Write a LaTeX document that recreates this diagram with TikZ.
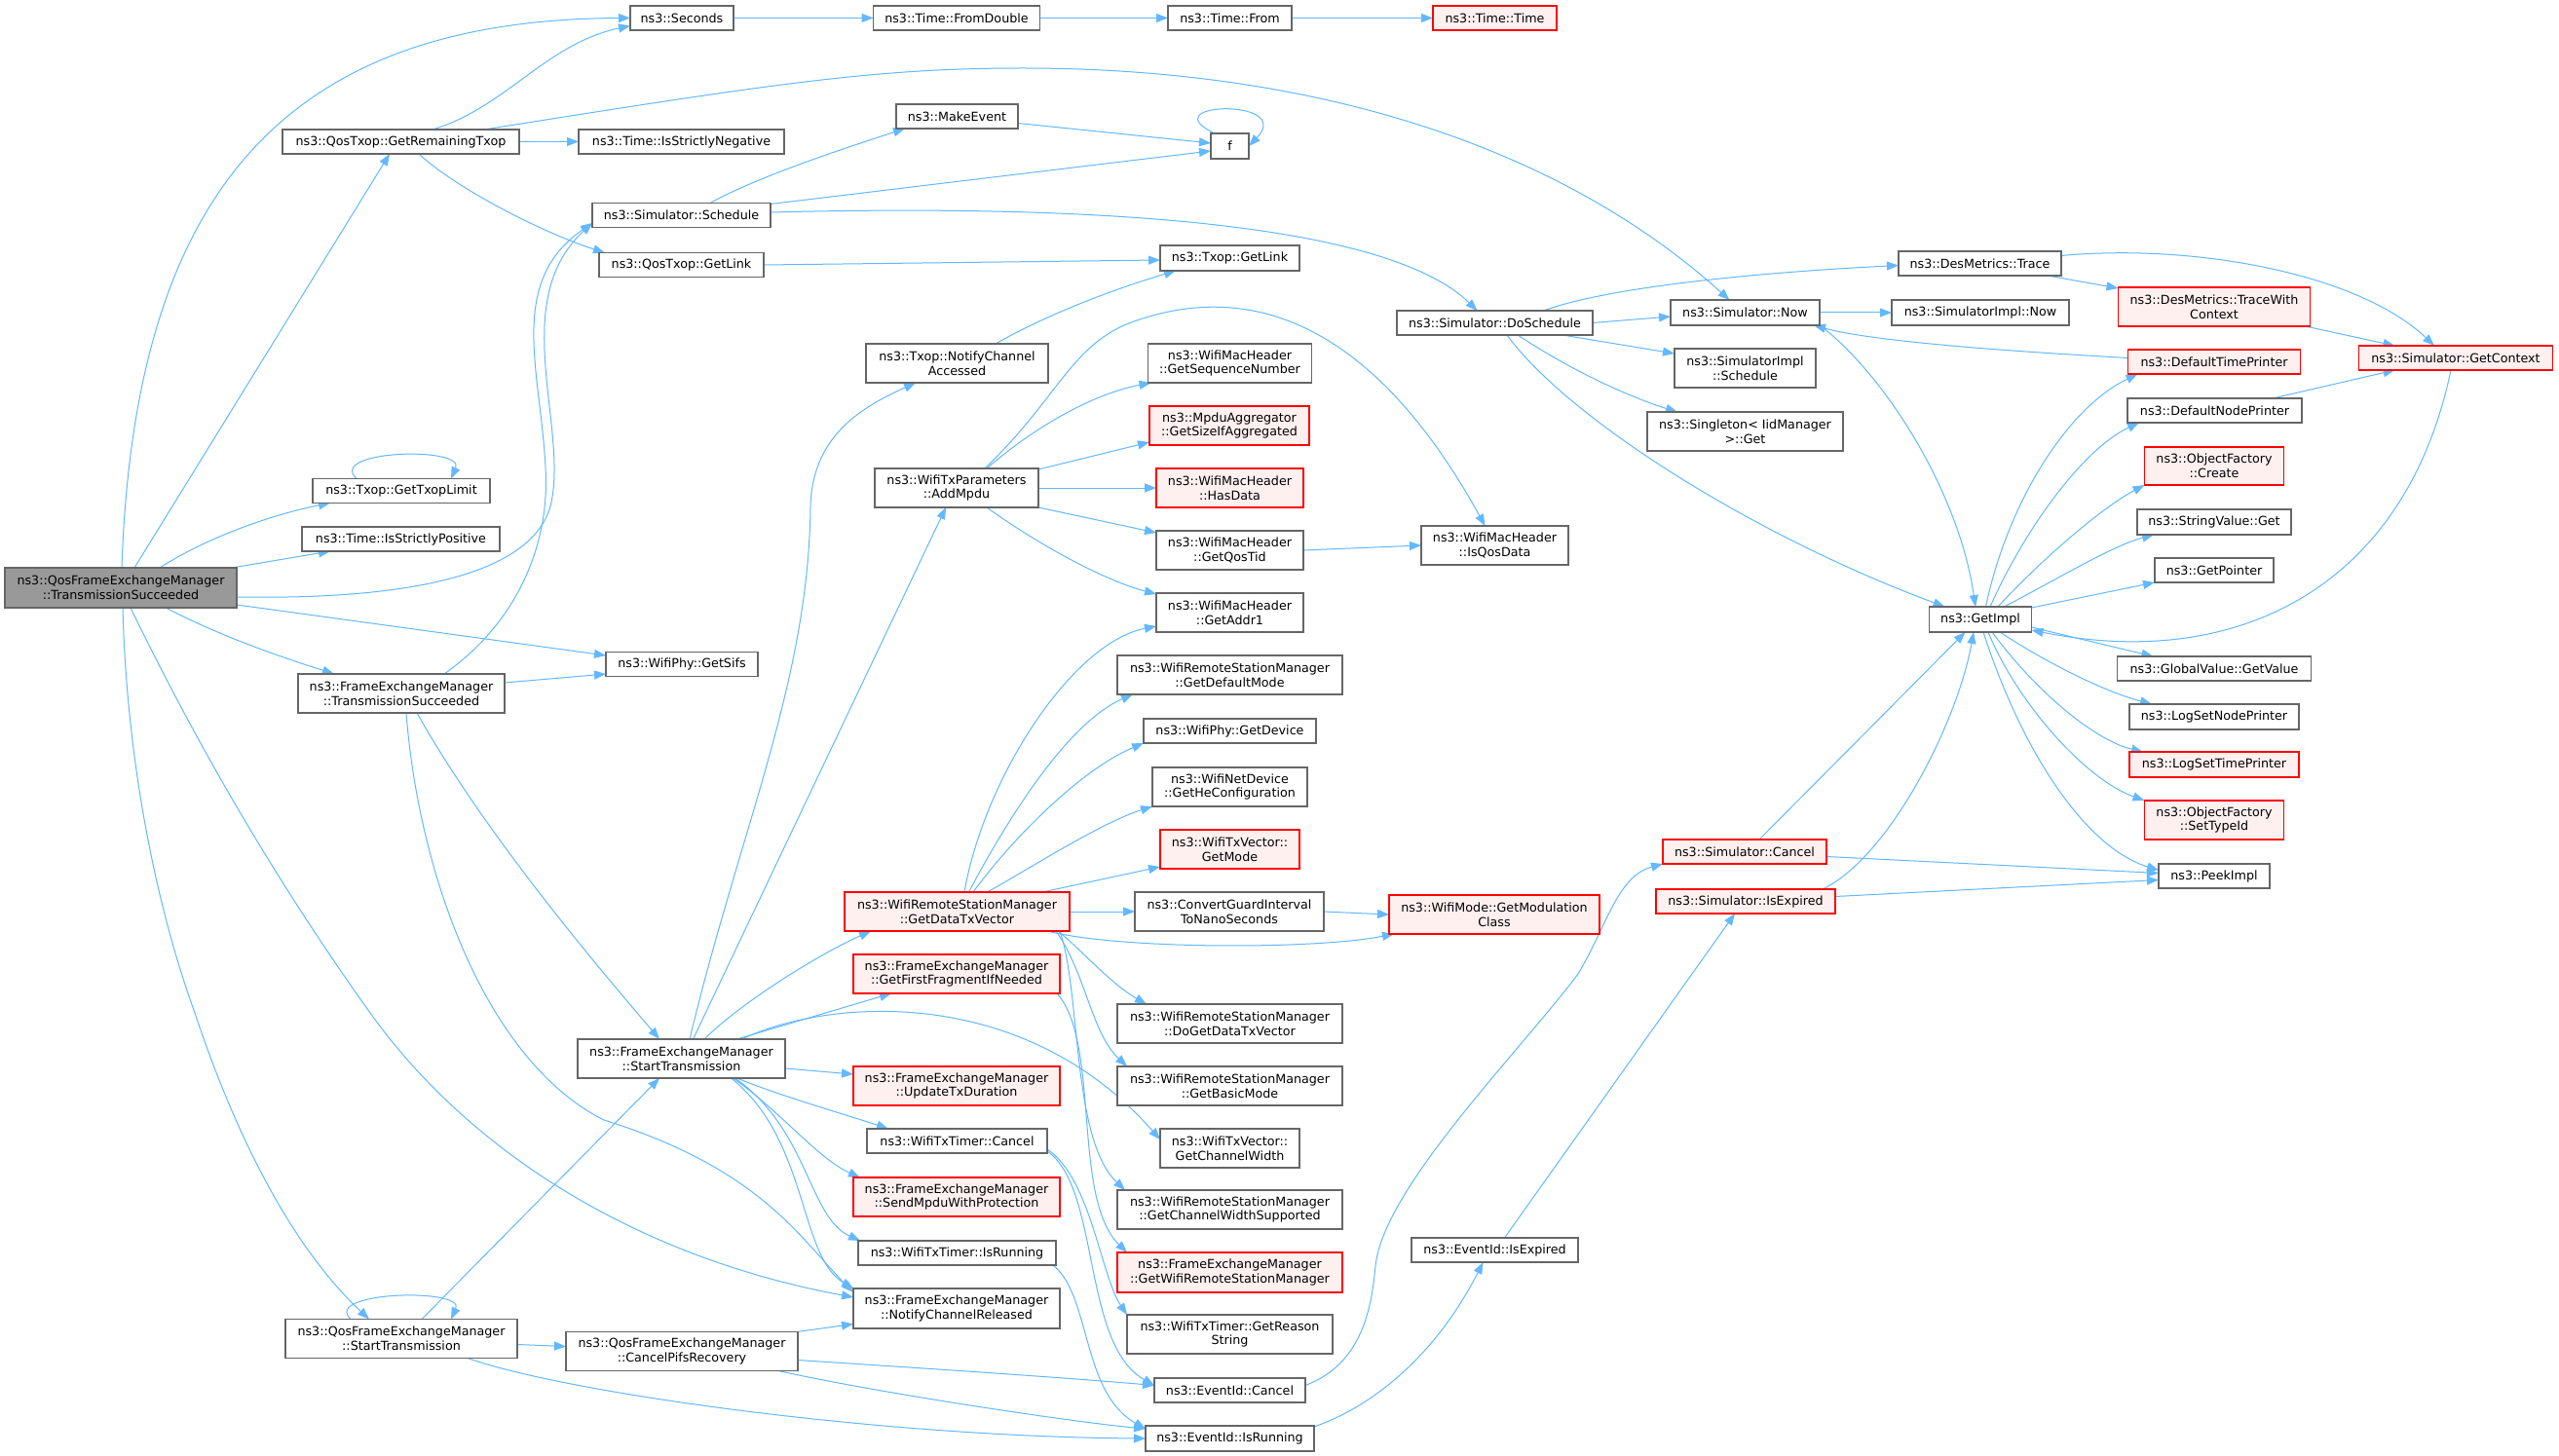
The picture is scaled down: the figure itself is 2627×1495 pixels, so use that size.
\documentclass[tikz,border=0pt]{standalone}
\usepackage{fontspec}
\setmainfont{DejaVu Sans}
\usetikzlibrary{arrows.meta,calc}
\definecolor{edgecol}{HTML}{63B8FF}
\definecolor{greyforty}{HTML}{666666}
\definecolor{greysixty}{HTML}{999999}
\definecolor{redfill}{HTML}{FFF0F0}
\pgfdeclarelayer{bg}
\pgfsetlayers{bg,main}
\begin{document}
\begin{tikzpicture}[x=1pt,y=-1pt,
  nbox/.style={draw=greyforty,fill=white,line width=1.3pt,inner sep=0pt,outer sep=0pt,align=center,text=black,font=\fontsize{12.7}{14.7}\selectfont},
  rbox/.style={nbox,draw=red,fill=redfill},
  mbox/.style={nbox,fill=greysixty},
  conn/.style={draw=edgecol,line width=1pt,-{Triangle[length=12pt,width=9pt]}}]
\useasboundingbox (0,0) rectangle (2627,1495);
% ---------------- nodes ----------------
\node[mbox,minimum width=238pt,minimum height=41pt] (main) at (124,603.5) {ns3::QosFrameExchangeManager\\::TransmissionSucceeded};
\node[nbox,minimum width=243pt,minimum height=25pt] (grt) at (411.5,145.5) {ns3::QosTxop::GetRemainingTxop};
\node[nbox,minimum width=182pt,minimum height=25pt] (gtl) at (412,504) {ns3::Txop::GetTxopLimit};
\node[nbox,minimum width=203pt,minimum height=25pt] (isp) at (411.5,553.5) {ns3::Time::IsStrictlyPositive};
\node[nbox,minimum width=212pt,minimum height=40pt] (fts) at (412,712) {ns3::FrameExchangeManager\\::TransmissionSucceeded};
\node[nbox,minimum width=238pt,minimum height=40pt] (qst) at (412,1374.5) {ns3::QosFrameExchangeManager\\::StartTransmission};
\node[nbox,minimum width=106pt,minimum height=25pt] (sec) at (700,18.5) {ns3::Seconds};
\node[nbox,minimum width=211pt,minimum height=25pt] (isn) at (699.5,145.5) {ns3::Time::IsStrictlyNegative};
\node[nbox,minimum width=183pt,minimum height=25pt] (sch) at (699.5,221) {ns3::Simulator::Schedule};
\node[nbox,minimum width=169pt,minimum height=25pt] (qgl) at (699.5,272) {ns3::QosTxop::GetLink};
\node[nbox,minimum width=156pt,minimum height=25pt] (sifs) at (700,682) {ns3::WifiPhy::GetSifs};
\node[nbox,minimum width=213pt,minimum height=40pt] (fst) at (699.5,1087) {ns3::FrameExchangeManager\\::StartTransmission};
\node[nbox,minimum width=238pt,minimum height=40pt] (cpr) at (700,1387.5) {ns3::QosFrameExchangeManager\\::CancelPifsRecovery};
\node[nbox,minimum width=171pt,minimum height=25pt] (fd) at (982,18.5) {ns3::Time::FromDouble};
\node[nbox,minimum width=125pt,minimum height=25pt] (me) at (982.5,119.5) {ns3::MakeEvent};
\node[nbox,minimum width=187pt,minimum height=40pt] (nca) at (982.5,373) {ns3::Txop::NotifyChannel\\Accessed};
\node[nbox,minimum width=168pt,minimum height=40pt] (add) at (982,501) {ns3::WifiTxParameters\\::AddMpdu};
\node[rbox,minimum width=231pt,minimum height=40pt] (gdtv) at (982.5,936) {ns3::WifiRemoteStationManager\\::GetDataTxVector};
\node[rbox,minimum width=212pt,minimum height=40pt] (gffn) at (982,1000) {ns3::FrameExchangeManager\\::GetFirstFragmentIfNeeded};
\node[rbox,minimum width=212pt,minimum height=40pt] (utd) at (982,1115) {ns3::FrameExchangeManager\\::UpdateTxDuration};
\node[nbox,minimum width=185pt,minimum height=25pt] (wtc) at (982.5,1171.5) {ns3::WifiTxTimer::Cancel};
\node[rbox,minimum width=212pt,minimum height=40pt] (smp) at (982,1229) {ns3::FrameExchangeManager\\::SendMpduWithProtection};
\node[nbox,minimum width=203pt,minimum height=25pt] (wtr) at (982.5,1286.5) {ns3::WifiTxTimer::IsRunning};
\node[nbox,minimum width=212pt,minimum height=41pt] (ncr) at (982,1343.5) {ns3::FrameExchangeManager\\::NotifyChannelReleased};
\node[nbox,minimum width=127pt,minimum height=25pt] (from) at (1262.5,18.5) {ns3::Time::From};
\node[nbox,minimum width=39pt,minimum height=26pt] (f) at (1262.5,150) {f};
\node[nbox,minimum width=143pt,minimum height=26pt] (tgl) at (1262.5,265) {ns3::Txop::GetLink};
\node[nbox,minimum width=168pt,minimum height=40pt] (gsn) at (1262.5,373) {ns3::WifiMacHeader\\::GetSequenceNumber};
\node[rbox,minimum width=164pt,minimum height=40pt] (gsia) at (1262,437) {ns3::MpduAggregator\\::GetSizeIfAggregated};
\node[rbox,minimum width=151pt,minimum height=40pt] (hd) at (1262.5,501) {ns3::WifiMacHeader\\::HasData};
\node[nbox,minimum width=151pt,minimum height=40pt] (gqt) at (1262.5,565) {ns3::WifiMacHeader\\::GetQosTid};
\node[nbox,minimum width=151pt,minimum height=40pt] (ga1) at (1262.5,629) {ns3::WifiMacHeader\\::GetAddr1};
\node[nbox,minimum width=231pt,minimum height=40pt] (gdm) at (1262.5,693) {ns3::WifiRemoteStationManager\\::GetDefaultMode};
\node[nbox,minimum width=177pt,minimum height=25pt] (gdev) at (1262.5,750.5) {ns3::WifiPhy::GetDevice};
\node[nbox,minimum width=159pt,minimum height=40pt] (ghc) at (1262.5,808) {ns3::WifiNetDevice\\::GetHeConfiguration};
\node[rbox,minimum width=143pt,minimum height=40pt] (gm) at (1262.5,872) {ns3::WifiTxVector::\\GetMode};
\node[nbox,minimum width=194pt,minimum height=40pt] (cgi) at (1262,936) {ns3::ConvertGuardInterval\\ToNanoSeconds};
\node[nbox,minimum width=231pt,minimum height=40pt] (dgdtv) at (1262.5,1051) {ns3::WifiRemoteStationManager\\::DoGetDataTxVector};
\node[nbox,minimum width=231pt,minimum height=40pt] (gbm) at (1262.5,1115) {ns3::WifiRemoteStationManager\\::GetBasicMode};
\node[nbox,minimum width=143pt,minimum height=40pt] (gcw) at (1262.5,1179) {ns3::WifiTxVector::\\GetChannelWidth};
\node[nbox,minimum width=231pt,minimum height=40pt] (gcws) at (1262.5,1242) {ns3::WifiRemoteStationManager\\::GetChannelWidthSupported};
\node[rbox,minimum width=231pt,minimum height=41pt] (gwrsm) at (1262.5,1306.5) {ns3::FrameExchangeManager\\::GetWifiRemoteStationManager};
\node[nbox,minimum width=211pt,minimum height=40pt] (grs) at (1262.5,1370) {ns3::WifiTxTimer::GetReason\\String};
\node[nbox,minimum width=155pt,minimum height=25pt] (ec) at (1262.5,1427.5) {ns3::EventId::Cancel};
\node[nbox,minimum width=173pt,minimum height=26pt] (er) at (1262.5,1477) {ns3::EventId::IsRunning};
\node[rbox,minimum width=127pt,minimum height=25pt] (tt) at (1534.5,18.5) {ns3::Time::Time};
\node[nbox,minimum width=201pt,minimum height=25pt] (dos) at (1534.5,331.5) {ns3::Simulator::DoSchedule};
\node[nbox,minimum width=151pt,minimum height=40pt] (iqd) at (1534.5,560) {ns3::WifiMacHeader\\::IsQosData};
\node[rbox,minimum width=216pt,minimum height=40pt] (gmc) at (1534,939) {ns3::WifiMode::GetModulation\\Class};
\node[nbox,minimum width=171pt,minimum height=25pt] (eie) at (1534.5,1283.5) {ns3::EventId::IsExpired};
\node[nbox,minimum width=153pt,minimum height=26pt] (now) at (1791.5,321) {ns3::Simulator::Now};
\node[nbox,minimum width=145pt,minimum height=40pt] (sis) at (1791.5,378) {ns3::SimulatorImpl\\::Schedule};
\node[nbox,minimum width=201pt,minimum height=40pt] (sing) at (1791.5,443) {ns3::Singleton< IidManager\\>::Get};
\node[rbox,minimum width=168pt,minimum height=25pt] (sc) at (1791,874.5) {ns3::Simulator::Cancel};
\node[rbox,minimum width=184pt,minimum height=25pt] (sie) at (1792,925.5) {ns3::Simulator::IsExpired};
\node[nbox,minimum width=167pt,minimum height=25pt] (dmt) at (2032.5,270.5) {ns3::DesMetrics::Trace};
\node[nbox,minimum width=182pt,minimum height=26pt] (sin) at (2033,321) {ns3::SimulatorImpl::Now};
\node[nbox,minimum width=105pt,minimum height=26pt] (gi) at (2033,636) {ns3::GetImpl};
\node[rbox,minimum width=197pt,minimum height=40pt] (dtwc) at (2273,315) {ns3::DesMetrics::TraceWith\\Context};
\node[rbox,minimum width=177pt,minimum height=25pt] (dtp) at (2273,371.5) {ns3::DefaultTimePrinter};
\node[nbox,minimum width=179pt,minimum height=25pt] (dnp) at (2273.5,421.5) {ns3::DefaultNodePrinter};
\node[rbox,minimum width=143pt,minimum height=39pt] (ofc) at (2273,478.5) {ns3::ObjectFactory\\::Create};
\node[nbox,minimum width=158pt,minimum height=26pt] (svg) at (2273,536) {ns3::StringValue::Get};
\node[nbox,minimum width=122pt,minimum height=25pt] (gp) at (2273,585.5) {ns3::GetPointer};
\node[nbox,minimum width=199pt,minimum height=25pt] (gvg) at (2273,686.5) {ns3::GlobalValue::GetValue};
\node[nbox,minimum width=174pt,minimum height=26pt] (lsnp) at (2273,736) {ns3::LogSetNodePrinter};
\node[rbox,minimum width=174pt,minimum height=26pt] (lstp) at (2273,785) {ns3::LogSetTimePrinter};
\node[rbox,minimum width=143pt,minimum height=40pt] (ofst) at (2273,842) {ns3::ObjectFactory\\::SetTypeId};
\node[nbox,minimum width=114pt,minimum height=25pt] (pi) at (2273,899.5) {ns3::PeekImpl};
\node[rbox,minimum width=199pt,minimum height=25pt] (gctx) at (2521,367.5) {ns3::Simulator::GetContext};
% ---------------- edges ----------------
\begin{pgfonlayer}{bg}
\fill[white] (0,0) rectangle (2627,1495);
% main
\draw[conn] ($(main.north)+(1,0)$) .. controls (138,200) and (290,20) .. (sec.west);
\draw[conn] ($(main.north)+(14,0)$) -- ($(grt.south)+(-11.5,0)$);
\draw[conn] ($(main.north)+(40,0)$) .. controls (215,550) and (285,527) .. ($(gtl.south west)+(18,0)$);
\draw[conn] ($(main.north east)+(-5,0)$) -- ($(isp.south west)+(29,0)$);
\draw[conn] ($(main.east)+(0,9.5)$) .. controls (420,616) and (545,590) .. (565,520) .. controls (585,440) and (520,310) .. ($(sch.west)+(0,8)$);
\draw[conn] ($(main.east)+(0,17.5)$) -- ($(sifs.west)+(0,-9)$);
\draw[conn] ($(main.south)+(46,0)$) .. controls (230,655) and (290,675) .. ($(fts.north west)+(37,0)$);
\draw[conn] ($(main.south)+(2,0)$) .. controls (130,780) and (160,930) .. (200,1040) .. controls (250,1190) and (310,1290) .. ($(qst.north)+(-33,0)$);
\draw[conn] ($(main.south)+(10,0)$) .. controls (200,760) and (280,900) .. (380,1040) .. controls (480,1180) and (650,1290) .. ($(ncr.west)+(0,-11.5)$);
% grt
\draw[conn] ($(grt.north)+(32.5,0)$) .. controls (520,110) and (560,45) .. ($(sec.west)+(0,8)$);
\draw[conn] (grt.east) -- (isn.west);
\draw[conn] ($(grt.south)+(18.5,0)$) .. controls (470,195) and (560,240) .. ($(qgl.north west)+(6,0)$);
\draw[conn] ($(grt.north)+(85.5,0)$) .. controls (800,85) and (900,70) .. (1050,70) .. controls (1350,70) and (1600,150) .. ($(now.north)+(-16,0)$);
% chain
\draw[conn] (sec.east) -- (fd.west);
\draw[conn] (fd.east) -- (from.west);
\draw[conn] (from.east) -- (tt.west);
% schedule
\draw[conn] ($(sch.north)+(29.5,0)$) .. controls (780,180) and (880,148) .. ($(me.south west)+(9,0)$);
\draw[conn] ($(sch.north east)+(0,1)$) -- ($(f.west)+(0,5)$);
\draw[conn] ($(sch.east)+(0,-3)$) .. controls (1100,210) and (1420,225) .. ($(dos.north)+(-18,0)$);
\draw[conn] ($(me.east)+(0,7)$) -- ($(f.west)+(0,-3)$);
\draw[conn] ($(f.north west)+(4,0)$) .. controls (1180,105) and (1330,100) .. (f.east);
\draw[conn] (qgl.east) -- ($(tgl.west)+(0,2)$);
\draw[conn] ($(nca.north)+(39.5,0)$) .. controls (1080,320) and (1150,295) .. ($(tgl.south west)+(16,0)$);
% addmpdu
\draw[conn] ($(add.north)+(29,0)$) .. controls (1090,405) and (1100,350) .. (1170,328) .. controls (1300,285) and (1420,350) .. ($(iqd.north)+(-10,0)$);
\draw[conn] ($(add.north)+(31,0)$) .. controls (1060,440) and (1120,405) .. ($(gsn.south west)+(3,0)$);
\draw[conn] ($(add.north east)+(0,1)$) -- ($(gsia.west)+(0,17)$);
\draw[conn] (add.east) -- (hd.west);
\draw[conn] (add.south east) -- ($(gqt.west)+(0,-18)$);
\draw[conn] ($(add.south)+(31,0)$) .. controls (1060,555) and (1130,595) .. ($(ga1.west)+(0,-19)$);
\draw[conn] (gqt.east) -- (iqd.west);
% fst
\draw[conn] ($(fst.north)+(8.5,0)$) .. controls (760,850) and (830,700) .. (832,520) .. controls (834,450) and (880,420) .. ($(nca.south)+(-42.5,0)$);
\draw[conn] ($(fst.north)+(12,0)$) -- ($(add.south)+(-11,0)$);
\draw[conn] ($(fst.north)+(23.5,0)$) .. controls (760,1030) and (840,980) .. ($(gdtv.south west)+(27,0)$);
\draw[conn] ($(fst.north)+(57,0)$) -- ($(gffn.south west)+(39,0)$);
\draw[conn] ($(fst.north)+(62,0)$) .. controls (850,1025) and (1050,1010) .. ($(gcw.west)+(0,-9)$);
\draw[conn] ($(fst.east)+(0,10)$) -- ($(utd.west)+(0,-12)$);
\draw[conn] ($(fst.south)+(57,0)$) .. controls (800,1125) and (870,1145) .. ($(wtc.north west)+(22,0)$);
\draw[conn] ($(fst.south)+(53,0)$) .. controls (800,1140) and (840,1190) .. ($(smp.north west)+(7,0)$);
\draw[conn] ($(fst.south)+(55,0)$) .. controls (830,1160) and (830,1250) .. ($(wtr.north west)+(2,0)$);
\draw[conn] ($(fst.south)+(51,0)$) .. controls (830,1170) and (820,1290) .. (ncr.north west);
% fts
\draw[conn] ($(fts.north)+(44,0)$) .. controls (530,640) and (565,560) .. (560,480) .. controls (555,380) and (520,290) .. ($(sch.west)+(0,8)$);
\draw[conn] ($(fts.east)+(0,-11)$) -- ($(sifs.west)+(0,10)$);
\draw[conn] ($(fts.south)+(16,0)$) .. controls (500,860) and (620,1000) .. ($(fst.north)+(-22.5,0)$);
\draw[conn] ($(fts.south)+(5,0)$) .. controls (430,900) and (500,1090) .. (620,1150) .. controls (780,1200) and (820,1270) .. ($(ncr.north west)+(0,4)$);
% qst
\draw[conn] ($(qst.north)+(-52,0)$) .. controls (330,1326) and (478,1322) .. ($(qst.north)+(51,0)$);
\draw[conn] ($(gtl.north)+(-46,0)$) .. controls (335,462) and (478,458) .. ($(gtl.north)+(51,0)$);
\draw[conn] ($(qst.north)+(21,0)$) -- ($(fst.south)+(-22.5,0)$);
\draw[conn] ($(qst.east)+(0,6)$) -- ($(cpr.west)+(0,-5)$);
\draw[conn] ($(qst.south)+(68,0)$) .. controls (580,1430) and (900,1475) .. (er.west);
% cpr
\draw[conn] ($(cpr.north east)+(-1,0)$) -- ($(ncr.west)+(0,16)$);
\draw[conn] ($(cpr.east)+(0,9)$) .. controls (950,1405) and (1100,1415) .. ($(ec.west)+(0,-5)$);
\draw[conn] ($(cpr.south)+(99,0)$) .. controls (900,1430) and (1100,1460) .. ($(er.west)+(0,-10)$);
% wifi tx timer
\draw[conn] ($(wtc.south east)+(0,-2)$) .. controls (1130,1220) and (1110,1380) .. ($(ec.west)+(0,-5)$);
\draw[conn] ($(wtc.south east)+(0,-4)$) .. controls (1120,1210) and (1130,1310) .. (grs.north west);
\draw[conn] ($(wtr.south east)+(-3,0)$) .. controls (1120,1330) and (1110,1430) .. ($(er.west)+(0,-10)$);
\draw[conn] ($(gffn.south east)+(-3,0)$) .. controls (1130,1070) and (1100,1230) .. ($(gwrsm.north west)+(10,0)$);
% gdtv
\draw[conn] ($(gdtv.north)+(7.5,0)$) .. controls (1010,800) and (1100,660) .. ($(ga1.west)+(0,14)$);
\draw[conn] ($(gdtv.north)+(12,0)$) .. controls (1040,830) and (1100,740) .. ($(gdm.south west)+(16,0)$);
\draw[conn] ($(gdtv.north)+(16.5,0)$) .. controls (1040,860) and (1110,790) .. (gdev.south west);
\draw[conn] ($(gdtv.north)+(31,0)$) .. controls (1060,890) and (1130,845) .. (ghc.south west);
\draw[conn] ($(gdtv.north east)+(-28,0)$) -- ($(gm.west)+(0,18)$);
\draw[conn] (gdtv.east) -- (cgi.west);
\draw[conn] ($(gdtv.south east)+(-23,0)$) .. controls (1150,975) and (1350,975) .. ($(gmc.south west)+(5,0)$);
\draw[conn] ($(gdtv.south east)+(-12,0)$) .. controls (1110,975) and (1140,1010) .. ($(dgdtv.north west)+(30,0)$);
\draw[conn] ($(gdtv.south east)+(-14,0)$) .. controls (1115,1000) and (1120,1060) .. ($(gbm.north west)+(10,0)$);
\draw[conn] ($(gdtv.south east)+(-10,0)$) .. controls (1110,1020) and (1100,1170) .. ($(gcws.north west)+(8,0)$);
\draw[conn] (cgi.east) -- (gmc.west);
% event id
\draw[conn] ($(ec.east)+(0,-5)$) .. controls (1400,1400) and (1408,1340) .. (1412,1300) .. controls (1420,1220) and (1560,1080) .. (1620,1000) .. controls (1650,950) and (1660,900) .. (sc.south west);
\draw[conn] ($(er.east)+(0,-12)$) .. controls (1420,1440) and (1480,1380) .. ($(eie.south)+(-12,0)$);
\draw[conn] ($(eie.north)+(10,0)$) -- ($(sie.south)+(-11,0)$);
% simulator cancel / isexpired
\draw[conn] ($(sc.north)+(15,0)$) -- ($(gi.south west)+(37,0)$);
\draw[conn] ($(sc.east)+(0,5)$) -- ($(pi.west)+(0,-3)$);
\draw[conn] ($(sie.north east)+(-13,0)$) .. controls (1940,880) and (2010,740) .. ($(gi.south)+(-7,0)$);
\draw[conn] ($(sie.east)+(0,-5)$) -- ($(pi.west)+(0,4)$);
% doschedule
\draw[conn] ($(dos.north)+(50,0)$) .. controls (1650,295) and (1800,280) .. ($(dmt.west)+(0,2)$);
\draw[conn] (dos.east) -- ($(now.west)+(0,4)$);
\draw[conn] ($(dos.south east)+(-31,0)$) -- ($(sis.west)+(0,-15)$);
\draw[conn] ($(dos.south)+(23.5,0)$) .. controls (1620,385) and (1680,410) .. ($(sing.north west)+(31,0)$);
\draw[conn] ($(dos.south)+(12.5,0)$) .. controls (1610,430) and (1800,550) .. ($(gi.north west)+(16,0)$);
% now
\draw[conn] (now.east) -- (sin.west);
\draw[conn] (now.south east) .. controls (1930,380) and (2010,500) .. ($(gi.north)+(-5,0)$);
\draw[conn] ($(dtp.west)+(0,-4)$) .. controls (2050,360) and (1920,350) .. ($(now.south east)+(-6,0)$);
% desmetrics / context
\draw[conn] ($(dmt.south east)+(-14,0)$) -- ($(dtwc.north west)+(0,1)$);
\draw[conn] ($(dmt.east)+(0,-8)$) .. controls (2250,250) and (2420,280) .. ($(gctx.north)+(-22,0)$);
\draw[conn] ($(dtwc.south east)+(-5,0)$) -- ($(gctx.north west)+(37,0)$);
\draw[conn] ($(dnp.north east)+(-30,0)$) -- ($(gctx.south west)+(37,0)$);
\draw[conn] ($(gctx.south)+(-5,0)$) .. controls (2470,600) and (2300,690) .. ($(gi.east)+(0,11)$);
% getimpl
\draw[conn] ($(gi.north)+(5.5,0)$) .. controls (2060,520) and (2120,420) .. ($(dtp.south west)+(10,0)$);
\draw[conn] ($(gi.north)+(10,0)$) .. controls (2080,540) and (2140,460) .. ($(dnp.south west)+(12,0)$);
\draw[conn] ($(gi.north)+(18,0)$) .. controls (2100,570) and (2160,520) .. (ofc.south west);
\draw[conn] ($(gi.north)+(24.5,0)$) .. controls (2120,590) and (2170,560) .. ($(svg.south west)+(17,0)$);
\draw[conn] ($(gi.north east)+(0,1)$) -- (gp.south west);
\draw[conn] ($(gi.east)+(0,8)$) -- ($(gvg.north west)+(37,0)$);
\draw[conn] ($(gi.south)+(20,0)$) .. controls (2100,680) and (2160,710) .. ($(lsnp.north west)+(23,0)$);
\draw[conn] ($(gi.south)+(12,0)$) .. controls (2090,710) and (2150,760) .. ($(lstp.north west)+(14,0)$);
\draw[conn] ($(gi.south)+(8,0)$) .. controls (2070,720) and (2140,800) .. (ofst.north west);
\draw[conn] ($(gi.south)+(3,0)$) .. controls (2075,770) and (2140,870) .. ($(pi.west)+(0,-6)$);
\end{pgfonlayer}
\end{tikzpicture}
\end{document}
